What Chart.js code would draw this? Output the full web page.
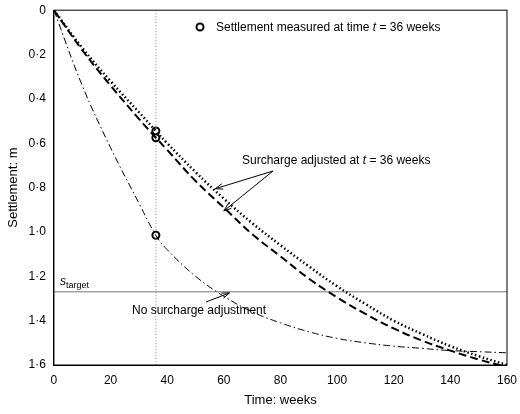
<!DOCTYPE html>
<html><head><meta charset="utf-8">
<script src="https://cdn.jsdelivr.net/npm/chart.js@4"></script>
<style>html,body{margin:0;background:#fff}#w{width:520px;height:414px}</style>
</head><body><div id="w"><canvas id="c"></canvas></div>
<script>
const weeks = [0,10,20,30,36,40,50,60,70,80,90,100,110,120,130,140,150,160];
const dottedAdj = [0,0.17,0.32,0.46,0.545,0.6,0.73,0.85,0.96,1.06,1.155,1.245,1.325,1.4,1.46,1.515,1.56,1.6];
const dashedAdj = [0,0.18,0.34,0.49,0.575,0.63,0.77,0.89,1.01,1.11,1.21,1.295,1.37,1.435,1.49,1.535,1.575,1.61];
const noAdj = [0,0.34,0.62,0.87,1.015,1.08,1.2,1.29,1.36,1.41,1.45,1.48,1.5,1.515,1.525,1.535,1.54,1.545];
const measuredT = 36;
const measured = [0.545,0.575,1.015];
const sTarget = 1.27;
const xTicks = [0,20,40,60,80,100,120,140,160];
const yTicks = [0,0.2,0.4,0.6,0.8,1.0,1.2,1.4,1.6];
const pts = a => weeks.map((w,i)=>({x:w,y:a[i]}));
const fmt = v => v===0 ? '0' : v.toFixed(1).replace('.','·');

function arrow(ctx,x1,y1,x2,y2){
  ctx.beginPath();ctx.moveTo(x1,y1);ctx.lineTo(x2,y2);ctx.stroke();
  const a=Math.atan2(y2-y1,x2-x1),L=8;
  ctx.beginPath();ctx.moveTo(x2,y2);
  ctx.lineTo(x2-L*Math.cos(a-0.35),y2-L*Math.sin(a-0.35));
  ctx.moveTo(x2,y2);
  ctx.lineTo(x2-L*Math.cos(a+0.35),y2-L*Math.sin(a+0.35));
  ctx.stroke();
}
const annot = {id:'annot',afterDatasetsDraw(ch){
  const {ctx,scales:{x,y}}=ch;
  ctx.save();ctx.fillStyle='#000';ctx.strokeStyle='#000';ctx.lineWidth=1;
  ctx.font='12px "Liberation Sans", Arial';
  ctx.lineWidth=2;ctx.beginPath();ctx.arc(200,27,3.5,0,Math.PI*2);ctx.stroke();ctx.lineWidth=1;
  ctx.textBaseline='middle';
  let tx=216;
  const seg=(t,f,yy)=>{ctx.font=f;ctx.fillText(t,tx,yy);tx+=ctx.measureText(t).width;};
  seg('Settlement measured at time ','12px "Liberation Sans", Arial',28);
  seg('t','italic 12px "Liberation Sans", Arial',28);
  seg(' = 36 weeks','12px "Liberation Sans", Arial',28);
  tx=242;
  seg('Surcharge adjusted at ','12px "Liberation Sans", Arial',161);
  seg('t','italic 12px "Liberation Sans", Arial',161);
  seg(' = 36 weeks','12px "Liberation Sans", Arial',161);
  arrow(ctx,273,171,x.getPixelForValue(57),y.getPixelForValue(0.805));
  arrow(ctx,273,171,x.getPixelForValue(60),y.getPixelForValue(0.905));
  ctx.font='12px "Liberation Sans", Arial';
  ctx.fillText('No surcharge adjustment',132,311);
  arrow(ctx,206,302,x.getPixelForValue(62),y.getPixelForValue(1.275));
  tx=60;
  ctx.font='italic 12px "Liberation Sans", Arial';ctx.fillText('s',tx,y.getPixelForValue(sTarget)-10);
  tx+=ctx.measureText('s').width;
  ctx.font='9px "Liberation Sans", Arial';ctx.fillText('target',tx,y.getPixelForValue(sTarget)-6);
  ctx.restore();
}};
new Chart(document.getElementById('c'),{
  type:'scatter',
  data:{datasets:[
    {data:pts(dottedAdj),showLine:true,borderColor:'#000',borderWidth:2.5,borderDash:[1.5,2.5],pointRadius:0,tension:0.4},
    {data:pts(dashedAdj),showLine:true,borderColor:'#000',borderWidth:2,borderDash:[8,4],pointRadius:0,tension:0.4},
    {data:pts(noAdj),showLine:true,borderColor:'#000',borderWidth:1,borderDash:[7,3,1.5,3],pointRadius:0,tension:0.4},
    {data:[{x:0,y:sTarget},{x:160,y:sTarget}],showLine:true,borderColor:'#777',borderWidth:1,pointRadius:0},
    {data:[{x:measuredT,y:0},{x:measuredT,y:1.6}],showLine:true,borderColor:'#888',borderWidth:1,borderDash:[1,2],pointRadius:0},
    {data:measured.map(v=>({x:measuredT,y:v})),pointRadius:3.5,pointBorderWidth:2,pointBorderColor:'#000',pointBackgroundColor:'#fff'}
  ]},
  options:{responsive:true,maintainAspectRatio:false,animation:false,
    layout:{padding:{top:9,right:12,left:2,bottom:2}},
    plugins:{legend:{display:false},tooltip:{enabled:false}},
    scales:{
      x:{type:'linear',min:0,max:160,afterBuildTicks:a=>{a.ticks=xTicks.map(v=>({value:v}));},
        grid:{display:false,drawTicks:true,tickLength:5,tickColor:'#000'},border:{color:'#000',width:1},
        ticks:{color:'#000',font:{size:12,family:'"Liberation Sans", Arial'},maxRotation:0},
        title:{display:true,text:'Time: weeks',color:'#000',font:{size:13,family:'"Liberation Sans", Arial'},padding:{top:2}}},
      y:{reverse:true,min:0,max:1.6,afterBuildTicks:a=>{a.ticks=yTicks.map(v=>({value:v}));},
        grid:{display:false,tickLength:5,tickColor:'#000'},border:{color:'#000',width:1},
        ticks:{color:'#000',font:{size:12,family:'"Liberation Sans", Arial'},callback:v=>fmt(v)},
        title:{display:true,text:'Settlement: m',color:'#000',font:{size:13,family:'"Liberation Sans", Arial'}}}
    }
  },
  plugins:[annot,{id:'box',afterDraw(ch){const a=ch.chartArea,c=ch.ctx;c.save();c.strokeStyle='#000';c.lineWidth=1;c.strokeRect(a.left,a.top,a.right-a.left,a.bottom-a.top);c.restore();}}]
});
</script></body></html>
